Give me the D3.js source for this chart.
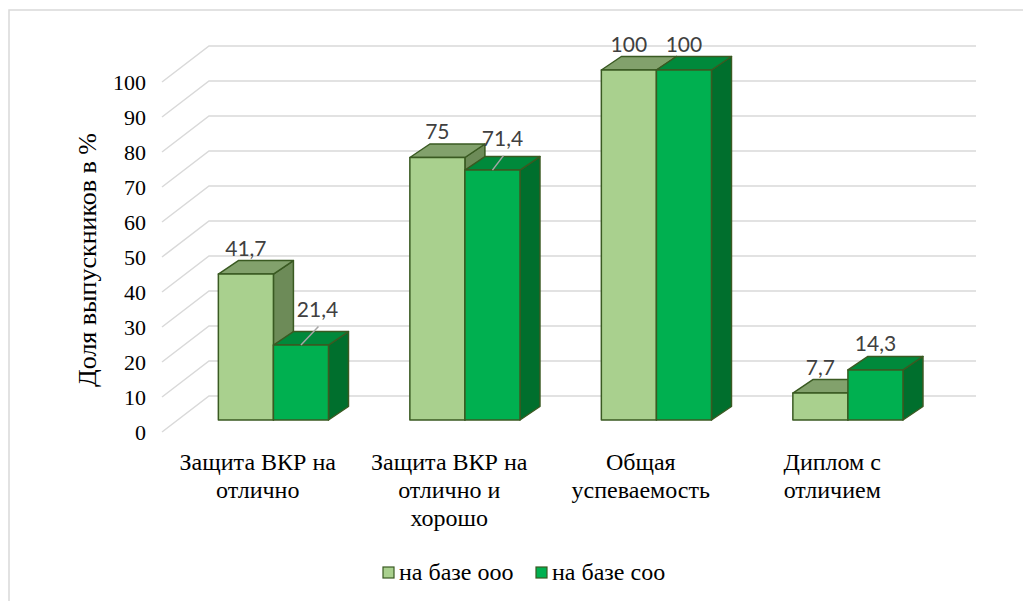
<!DOCTYPE html>
<html>
<head>
<meta charset="utf-8">
<script src="https://cdn.jsdelivr.net/npm/d3@7"></script>
<style>
  html, body { margin: 0; padding: 0; background: #fff; }
  svg { display: block; }
</style>
</head>
<body>
<svg id="chart" width="1023" height="601"></svg>
<script>
// ---- data ----
const categories = [
  "Защита ВКР на отлично",
  "Защита ВКР на отлично и хорошо",
  "Общая успеваемость",
  "Диплом с отличием"
];
const categoryLines = [
  ["Защита ВКР на", "отлично"],
  ["Защита ВКР на", "отлично и", "хорошо"],
  ["Общая", "успеваемость"],
  ["Диплом с", "отличием"]
];
const seriesNames = ["на базе ооо", "на базе соо"];
const seriesOOO = [41.7, 75, 100, 7.7];
const seriesSOO = [21.4, 71.4, 100, 14.3];
const yTicks = [0, 10, 20, 30, 40, 50, 60, 70, 80, 90, 100];
const yTitle = "Доля выпускников в %";

// ---- style / layout ----
const W = 1023, H = 601;
const wallDX = 47, wallDY = -36;        // depth vector of the wall
const barShiftX = wallDX / 3, barShiftY = wallDY / 3; // bar front plane depth
const barDX = 20, barDY = -13.5;          // bar depth
const colors = [
  { front: "#A9D08E", top: "#82A16C", side: "#6D8B58" },
  { front: "#00B050", top: "#00893B", side: "#006F2D" }
];
const outline = "#3A5A22";
const gridColor = "#D9D9D9";
const serif = "'Liberation Serif', 'Times New Roman', serif";
const fmt = v => String(v).replace(".", ",");
const labelNudge = { "0-1": [16.5, -10], "1-1": [10, -6] };

const svg = d3.select("#chart");

// border
svg.append("rect").attr("x", 9).attr("y", 10).attr("width", W).attr("height", H)
  .attr("fill", "none").attr("stroke", gridColor).attr("stroke-width", 1.5);

const y = d3.scaleLinear().domain([0, 100]).range([432, 82]);
const x = d3.scaleBand().domain(categories).range([162, 928]).paddingInner(0).paddingOuter(0);
const xs = d3.scaleBand().domain(seriesNames).range([0, x.bandwidth()]).paddingInner(0).paddingOuter(0.739);

// gridlines
const grid = svg.append("g");
yTicks.forEach(t => {
  const yf = y(t);
  grid.append("path")
    .attr("d", `M${162},${yf}L${162 + wallDX},${yf + wallDY}L${976},${yf + wallDY}`)
    .attr("fill", "none").attr("stroke", gridColor).attr("stroke-width", 1.5);
});

// tick labels
svg.append("g").selectAll("text").data(yTicks).join("text")
  .attr("x", 146).attr("y", d => y(d)).attr("dy", "0.35em")
  .attr("text-anchor", "end")
  .attr("font-family", serif)
  .attr("font-size", 22).attr("fill", "#000").text(d => d);

// y title
svg.append("text")
  .attr("transform", "translate(87,260) rotate(-90)")
  .attr("text-anchor", "middle").attr("dominant-baseline", "central")
  .attr("font-family", serif)
  .attr("font-size", 26).attr("fill", "#000").text(yTitle);

// bars
const allSeries = [seriesOOO, seriesSOO];
const bars = svg.append("g");
const labels = [];
categories.forEach((c, ci) => {
  allSeries.forEach((vals, si) => {
    const v = vals[ci];
    const x0 = x(c) + xs(seriesNames[si]) + barShiftX;
    const x1 = x0 + xs.bandwidth();
    const yb = y(0) + barShiftY;
    const yt = y(v) + barShiftY;
    const col = colors[si];
    const g = bars.append("g").attr("stroke", outline).attr("stroke-width", 1.5).attr("stroke-linejoin", "round");
    // side
    g.append("path").attr("fill", col.side)
      .attr("d", `M${x1},${yt}L${x1 + barDX},${yt + barDY}L${x1 + barDX},${yb + barDY}L${x1},${yb}Z`);
    // top
    g.append("path").attr("fill", col.top)
      .attr("d", `M${x0},${yt}L${x0 + barDX},${yt + barDY}L${x1 + barDX},${yt + barDY}L${x1},${yt}Z`);
    // front
    g.append("rect").attr("fill", col.front)
      .attr("x", x0).attr("y", yt).attr("width", x1 - x0).attr("height", yb - yt);
    const cx = (x0 + x1) / 2;
    const nudge = labelNudge[ci + "-" + si] || [0, 0];
    labels.push({ v, cx, topFront: yt, baseY: yt + barDY - 5, nudge });
  });
});

// data labels
const lg = svg.append("g");
labels.forEach(l => {
  const lx = l.cx + l.nudge[0], ly = l.baseY + l.nudge[1];
  if (l.nudge[0] !== 0 || l.nudge[1] !== 0) {
    lg.append("line")
      .attr("x1", lx + 1).attr("y1", ly + 10)
      .attr("x2", l.cx).attr("y2", l.topFront)
      .attr("stroke", "#A6A6A6").attr("stroke-width", 1.5);
  }
  lg.append("text").attr("x", lx).attr("y", ly)
    .attr("text-anchor", "middle")
    .attr("font-family", "Lato, 'Open Sans', sans-serif")
    .attr("font-size", 21).attr("fill", "#404040").text(fmt(l.v));
});

// category labels
const cg = svg.append("g")
  .attr("font-family", serif)
  .attr("font-size", 24).attr("fill", "#000").attr("text-anchor", "middle");
categories.forEach((c, ci) => {
  const cx = x(c) + x.bandwidth() / 2;
  categoryLines[ci].forEach((ln, li) => {
    cg.append("text").attr("x", cx).attr("y", 470 + li * 28).text(ln);
  });
});

// legend
const leg = svg.append("g")
  .attr("font-family", serif)
  .attr("font-size", 24).attr("fill", "#000");
const legX = [383, 536];
seriesNames.forEach((s, si) => {
  leg.append("rect").attr("x", legX[si]).attr("y", 567).attr("width", 11).attr("height", 11)
    .attr("fill", colors[si].front).attr("stroke", outline).attr("stroke-width", 1.2);
  leg.append("text").attr("x", legX[si] + 16).attr("y", 580).text(s);
});
</script>
</body>
</html>
